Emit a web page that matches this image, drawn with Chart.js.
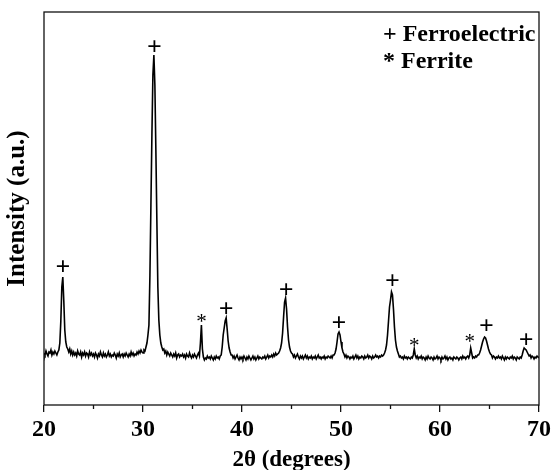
<!DOCTYPE html>
<html>
<head>
<meta charset="utf-8">
<script src="https://cdn.jsdelivr.net/npm/chart.js@4"></script>
<style>
  html, body { margin: 0; padding: 0; background: #fff; }
</style>
</head>
<body>
<canvas id="xrd" width="554" height="470"></canvas>
<script>
// scan settings: 2θ from 20° in 0.1° steps
const scanStart = 20;
const scanStep = 0.1;

// intensity (a.u.), one row per degree
const intensity = [
  52, 50, 54, 51, 49, 53, 52, 55, 50, 53,        // 20
  51, 54, 52, 50, 53, 55, 62, 84, 118, 128,      // 21
  104, 75, 63, 58, 56, 53, 56, 51, 54, 50,       // 22
  53, 50, 52, 49, 54, 51, 50, 53, 48, 52,        // 23
  50, 53, 49, 52, 51, 48, 53, 50, 52, 49,        // 24
  51, 48, 52, 50, 47, 51, 49, 53, 50, 48,        // 25
  52, 49, 51, 48, 50, 53, 49, 51, 48, 50,        // 26
  49, 52, 50, 47, 51, 49, 52, 48, 50, 51,        // 27
  48, 51, 49, 52, 50, 48, 51, 49, 53, 50,        // 28
  52, 49, 51, 50, 53, 51, 54, 52, 55, 53,        // 29
  52, 55, 54, 58, 62, 70, 80, 130, 200, 270,     // 30
  330, 350, 320, 255, 185, 118, 85, 70, 62, 58,  // 31
  55, 56, 52, 54, 50, 53, 51, 49, 52, 50,        // 32
  48, 51, 49, 52, 47, 50, 51, 48, 50, 49,        // 33
  51, 48, 50, 47, 51, 49, 48, 52, 49, 47,        // 34
  50, 48, 51, 49, 47, 50, 52, 49, 62, 80,        // 35
  56, 48, 45, 47, 46, 49, 47, 48, 46, 49,        // 36
  47, 45, 48, 46, 49, 47, 48, 46, 49, 50,        // 37
  58, 70, 77, 84, 87, 76, 64, 57, 53, 50,        // 38
  50, 47, 49, 46, 48, 50, 47, 45, 48, 46,        // 39
  48, 46, 49, 47, 45, 48, 46, 49, 47, 45,        // 40
  47, 49, 46, 48, 45, 47, 49, 46, 48, 47,        // 41
  46, 48, 47, 49, 46, 48, 50, 47, 49, 48,        // 42
  50, 48, 51, 49, 52, 50, 51, 52, 54, 57,        // 43
  62, 72, 88, 103, 107, 96, 78, 65, 58, 54,      // 44
  52, 51, 48, 50, 47, 49, 51, 48, 46, 49,        // 45
  47, 49, 46, 48, 50, 47, 49, 46, 48, 47,        // 46
  49, 46, 48, 47, 49, 46, 48, 50, 47, 48,        // 47
  46, 48, 47, 49, 46, 48, 47, 49, 48, 47,        // 48
  49, 47, 50, 50, 52, 56, 63, 71, 73, 70,        // 49
  63, 57, 53, 51, 48, 50, 47, 49, 48, 46,        // 50
  48, 47, 49, 46, 48, 50, 47, 49, 46, 48,        // 51
  47, 49, 48, 46, 49, 47, 48, 50, 47, 49,        // 52
  48, 46, 49, 47, 48, 50, 48, 49, 47, 49,        // 53
  48, 50, 49, 50, 52, 55, 60, 70, 84, 98,        // 54
  105, 113, 110, 96, 78, 65, 58, 54, 51, 48,     // 55
  49, 47, 48, 46, 49, 47, 48, 46, 48, 47,        // 56
  46, 48, 47, 50, 56, 50, 47, 49, 46, 48,        // 57
  47, 49, 46, 48, 47, 45, 48, 46, 49, 47,        // 58
  46, 48, 47, 45, 48, 46, 47, 49, 46, 48,        // 59
  47, 45, 48, 46, 47, 49, 46, 48, 45, 47,        // 60
  48, 46, 47, 45, 48, 47, 46, 48, 47, 45,        // 61
  47, 48, 46, 49, 47, 48, 46, 48, 49, 47,        // 62
  50, 57, 52, 47, 48, 47, 49, 48, 50, 50,        // 63
  52, 55, 59, 63, 66, 68, 67, 64, 60, 56,        // 64
  53, 51, 50, 47, 49, 48, 46, 48, 47, 49,        // 65
  47, 48, 46, 49, 47, 45, 48, 46, 48, 47,        // 66
  46, 48, 47, 49, 46, 48, 47, 45, 48, 47,        // 67
  46, 48, 47, 50, 54, 57, 56, 55, 53, 51,        // 68
  49, 50, 47, 49, 48, 46, 48, 47, 49, 48,        // 69
  47                                             // 70
];

// peak markers
const markAngles = [21.9, 31.15, 35.9, 38.4, 44.45, 49.8, 55.2, 57.4, 63.0, 64.7, 68.7];
const markHeights = [138, 358, 87, 96, 115, 82, 124, 63, 67, 79, 65];
const markSymbols = ['+', '+', '*', '+', '+', '+', '+', '*', '*', '+', '+'];

const legendLabels = ['+ Ferroelectric', '* Ferrite'];

const serif = '"Liberation Serif", "Times New Roman", serif';

const points = intensity.map((v, i) => ({ x: +(scanStart + i * scanStep).toFixed(1), y: v }));

const framePlugin = {
  id: 'frame',
  afterDraw(chart) {
    const { ctx, chartArea: a, scales } = chart;
    ctx.save();
    ctx.strokeStyle = '#111';
    ctx.lineWidth = 1.3;
    ctx.strokeRect(a.left, a.top, a.right - a.left, a.bottom - a.top);
    // minor ticks at the 5s
    scales.x.ticks.forEach((t) => {
      if (t.value % 10 !== 0) {
        const px = scales.x.getPixelForValue(t.value);
        ctx.beginPath();
        ctx.moveTo(px, a.bottom);
        ctx.lineTo(px, a.bottom + 4);
        ctx.stroke();
      }
    });
    ctx.restore();
  },
};

const markPlugin = {
  id: 'marks',
  afterDatasetsDraw(chart) {
    const { ctx, scales } = chart;
    ctx.save();
    ctx.fillStyle = '#000';
    ctx.textAlign = 'center';
    ctx.textBaseline = 'middle';
    markAngles.forEach((a, i) => {
      const sym = markSymbols[i];
      ctx.font = (sym === '+' ? 'bold 26px ' : '21px ') + serif;
      const px = scales.x.getPixelForValue(a);
      const py = scales.y.getPixelForValue(markHeights[i]) + (sym === '*' ? 4 : 1);
      ctx.fillText(sym, px, py);
    });

    ctx.font = 'bold 24px ' + serif;
    ctx.textAlign = 'left';
    ctx.textBaseline = 'alphabetic';
    legendLabels.forEach((label, i) => {
      ctx.fillText(label, 383, 41 + i * 27);
    });
    ctx.restore();
  },
};

new Chart(document.getElementById('xrd'), {
  type: 'line',
  data: {
    datasets: [
      {
        data: points,
        borderColor: '#000',
        borderWidth: 1.6,
        pointRadius: 0,
        tension: 0,
        fill: false,
      },
    ],
  },
  options: {
    responsive: false,
    animation: false,
    devicePixelRatio: 1,
    layout: { padding: { top: 12, right: 13, left: 0, bottom: 0 } },
    plugins: { legend: { display: false }, tooltip: { enabled: false } },
    scales: {
      x: {
        type: 'linear',
        min: 20,
        max: 70,
        ticks: {
          stepSize: 5,
          autoSkip: false,
          maxRotation: 0,
          padding: 3,
          color: '#000',
          font: { family: serif, size: 24, weight: 'bold' },
          callback: (v) => (v % 10 === 0 ? String(v) : ''),
        },
        grid: {
          drawOnChartArea: false,
          tickLength: 7,
          lineWidth: 1.3,
          color: (c) => (c.tick && c.tick.value % 10 === 0 ? '#111' : 'rgba(0,0,0,0)'),
        },
        border: { display: false },
        title: {
          display: true,
          text: '2θ (degrees)',
          color: '#000',
          font: { family: serif, size: 23, weight: 'bold', lineHeight: 0.9 },
          padding: 0,
        },
        afterFit: (s) => { s.height = 65; },
      },
      y: {
        min: 0,
        max: 393,
        ticks: { display: false },
        grid: { display: false },
        border: { display: false },
        title: {
          display: true,
          text: 'Intensity (a.u.)',
          color: '#000',
          font: { family: serif, size: 25, weight: 'bold', lineHeight: 1.2 },
          padding: { top: 3, bottom: 0 },
        },
        afterFit: (s) => { s.width = 44; },
      },
    },
  },
  plugins: [framePlugin, markPlugin],
});
</script>
</body>
</html>
